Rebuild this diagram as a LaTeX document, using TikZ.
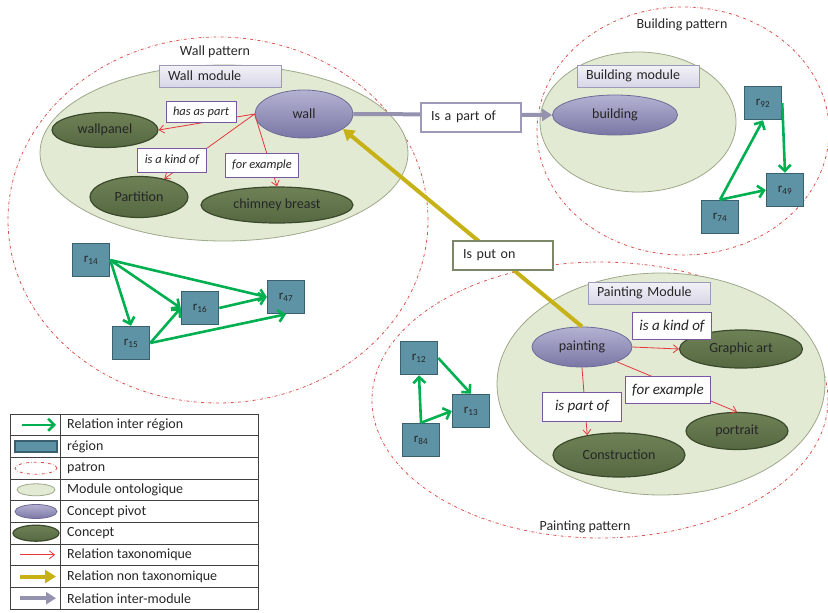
\documentclass[tikz,border=0pt]{standalone}
\usepackage{fontspec}
\setmainfont{Carlito}
\usetikzlibrary{shapes.geometric, arrows.meta}
\definecolor{inktext}{HTML}{262626}
\definecolor{patronred}{HTML}{D9534F}
\definecolor{modulefill}{HTML}{E2EAD3}
\definecolor{moduleedge}{HTML}{9DA88A}
\definecolor{pivottop}{HTML}{B4B2D2}
\definecolor{pivotbottom}{HTML}{7A77A5}
\definecolor{pivotedge}{HTML}{6E6B98}
\definecolor{concepttop}{HTML}{6E8156}
\definecolor{conceptbottom}{HTML}{556841}
\definecolor{conceptedge}{HTML}{3C4A2C}
\definecolor{regionblue}{HTML}{5E93A6}
\definecolor{regionedge}{HTML}{3A6070}
\definecolor{linkgreen}{HTML}{00B050}
\definecolor{taxred}{HTML}{E8383D}
\definecolor{taxpurple}{HTML}{7B57A3}
\definecolor{putonyellow}{HTML}{C6B217}
\definecolor{putonedge}{HTML}{7C876A}
\definecolor{intergray}{HTML}{9592B0}
\definecolor{labeltop}{HTML}{F3F2F8}
\definecolor{labelbottom}{HTML}{D8D6E7}
\definecolor{labeledge}{HTML}{9C9AB6}
\definecolor{legendgray}{HTML}{404040}

\begin{document}
\begin{tikzpicture}[x=1pt, y=-1pt, text=inktext, font=\fontsize{14}{16}\selectfont,
  patron/.style={draw=patronred, dash dot, line width=0.8pt},
  module/.style={draw=moduleedge, fill=modulefill, line width=0.8pt},
  modlabel/.style={draw=labeledge, top color=labeltop, bottom color=labelbottom, line width=0.8pt,
    text width=104pt, inner xsep=9pt, minimum height=22pt, align=left},
  pivot/.style={ellipse, draw=pivotedge, top color=pivottop, bottom color=pivotbottom, line width=0.8pt, inner sep=0pt},
  concept/.style={ellipse, draw=conceptedge, top color=concepttop, bottom color=conceptbottom, line width=1.2pt, inner sep=0pt},
  region/.style={draw=regionedge, fill=regionblue, line width=1.5pt, minimum width=37pt, minimum height=33pt,
    inner sep=0pt, font=\fontsize{13}{15}\selectfont},
  taxlabel/.style={draw=taxpurple, fill=white, line width=0.8pt, font=\fontsize{12.5}{14}\selectfont\itshape,
    inner xsep=7pt, minimum height=21pt},
  bigtaxlabel/.style={taxlabel, font=\fontsize{15}{17}\selectfont\itshape, minimum height=27pt},
  linklabel/.style={fill=white, line width=2pt, text width=80pt, inner xsep=10pt, minimum height=29pt, align=left},
  regionlink/.style={-{Straight Barb[length=6pt, width=12pt]}, linkgreen, line width=2.6pt},
  taxlink/.style={-{Straight Barb[length=5pt, width=8pt]}, taxred, line width=0.8pt},
  putonlink/.style={-{Triangle[length=11pt, width=13pt]}, putonyellow, line width=4pt},
  modulelink/.style={-{Triangle[length=10pt, width=12pt]}, intergray, line width=4pt},
  legendtext/.style={anchor=west, inner sep=0pt}]
  \useasboundingbox (0,0) rectangle (828,613);

  % Patterns
  \draw[patron] (218,220) ellipse [x radius=210pt, y radius=183pt];
  \draw[patron] (683,131) ellipse [x radius=146pt, y radius=124pt];
  \draw[patron] (600,400) ellipse [x radius=228pt, y radius=138pt];
  \node (wallpat) at (215,52) {Wall pattern};
  \node (buildpat) at (682,25) {Building pattern};
  \node (paintpat) at (585,527) {Painting pattern};

  % Modules
  \draw[module] (224,153) ellipse [x radius=184pt, y radius=88pt];
  \draw[module] (638,122) ellipse [x radius=98pt, y radius=70pt];
  \draw[module] (661,384) ellipse [x radius=164pt, y radius=111pt];
  \node[modlabel] (wallmod) at (220,76) {Wall module};
  \node[modlabel] (buildmod) at (638,76) {Building module};
  \node[modlabel] (paintmod) at (649,293) {Painting Module};

  % Concepts
  \node[pivot, minimum width=98pt, minimum height=48pt] (wall) at (304,114) {wall};
  \node[concept, minimum width=106pt, minimum height=35pt] (wallpanel) at (105,130) {wallpanel};
  \node[concept, minimum width=98pt, minimum height=41pt] (partition) at (139,197) {Partition};
  \node[concept, minimum width=152pt, minimum height=36pt] (chimney) at (277,205) {chimney breast};
  \node[pivot, minimum width=125pt, minimum height=40pt] (building) at (615,115) {building};
  \node[pivot, minimum width=100pt, minimum height=40pt] (painting) at (582,347) {painting};
  \node[concept, minimum width=123pt, minimum height=38pt] (graphic) at (741,349) {Graphic art};
  \node[concept, minimum width=102pt, minimum height=37pt] (portrait) at (737,431) {portrait};
  \node[concept, minimum width=132pt, minimum height=44pt] (construction) at (619,455) {Construction};

  % Regions
  \node[region] (r14) at (91,260) {r\textsubscript{14}};
  \node[region] (r15) at (131,343) {r\textsubscript{15}};
  \node[region] (r16) at (200,308) {r\textsubscript{16}};
  \node[region] (r47) at (286,297) {r\textsubscript{47}};
  \node[region] (r92) at (763,103) {r\textsubscript{92}};
  \node[region] (r49) at (785,190) {r\textsubscript{49}};
  \node[region] (r74) at (720,217) {r\textsubscript{74}};
  \node[region] (r12) at (419,358) {r\textsubscript{12}};
  \node[region] (r13) at (471,411) {r\textsubscript{13}};
  \node[region] (r84) at (421,440) {r\textsubscript{84}};

  % Inter region relations
  \draw[regionlink] (r14.east) -- (r47.west);
  \draw[regionlink] (r14.east) -- (r16.west);
  \draw[regionlink] (r14.east) -- (r15.north);
  \draw[regionlink] (r15.east) -- (r16.west);
  \draw[regionlink] (r15.east) -- (r47.south);
  \draw[regionlink] (r16.east) -- (r47.west);
  \draw[regionlink] (r74.north) -- (r92.south);
  \draw[regionlink] (r74.north) -- (r49.west);
  \draw[regionlink] (r92.east) -- (r49.north);
  \draw[regionlink] (r84.north) -- (r12.south);
  \draw[regionlink] (r12.east) -- (r13.north);
  \draw[regionlink] (r84.north) -- (r13.west);

  % Taxonomic relations
  \draw[taxlink] (wall.west) -- (wallpanel.east);
  \draw[taxlink] (wall.west) -- (partition);
  \draw[taxlink] (wall.west) -- (chimney.north);
  \draw[taxlink] (painting.east) -- (graphic.west);
  \draw[taxlink] (painting.-23) -- (portrait.north);
  \draw[taxlink] (painting.south) -- (construction.148);

  % Inter module and non taxonomic relations
  \draw[modulelink] (wall.east) -- (building.west);
  \draw[putonlink] (painting.north) -- (wall.-21);

  % Relation labels
  \node[linklabel, draw=labeledge] (partof) at (471,117) {Is a part of};
  \node[linklabel, draw=putonedge] (puton) at (503,255) {Is put on};
  \node[taxlabel] (hasaspart) at (201,112) {has as part};
  \node[taxlabel, minimum height=24pt] (kindwall) at (172,160) {is a kind of};
  \node[taxlabel, minimum height=24pt] (examplewall) at (262,165) {for example};
  \node[bigtaxlabel] (kindpaint) at (672,326) {is a kind of};
  \node[bigtaxlabel] (examplepaint) at (668,390) {for example};
  \node[bigtaxlabel, minimum width=79pt, minimum height=29pt] (partofpaint) at (582,407) {is part of};

  % Legend
  \draw[legendgray, line width=0.8pt] (10,414) rectangle (258,609);
  \draw[legendgray, line width=0.8pt] (60,414) -- (60,609)
    (10,435.7) -- (258,435.7) (10,457.3) -- (258,457.3) (10,479) -- (258,479)
    (10,500.7) -- (258,500.7) (10,522.3) -- (258,522.3) (10,544) -- (258,544)
    (10,565.7) -- (258,565.7) (10,587.3) -- (258,587.3);
  \draw[regionlink] (22,424.8) -- (56,424.8);
  \draw[draw=regionedge, fill=regionblue, line width=1.5pt] (15,441) rectangle (57,452);
  \draw[patron] (36,468.2) ellipse [x radius=21pt, y radius=6pt];
  \draw[module] (36,489.8) ellipse [x radius=19pt, y radius=6pt];
  \node[pivot, minimum width=42pt, minimum height=14pt] (lgpivot) at (36,511.5) {};
  \node[concept, minimum width=46pt, minimum height=16pt] (lgconcept) at (36,533.2) {};
  \draw[taxlink] (20,554.8) -- (55,554.8);
  \draw[putonlink] (20,576.5) -- (56,576.5);
  \draw[modulelink] (20,598.2) -- (56,598.2);
  \node[legendtext] (lgregionlink) at (67,424.8) {Relation inter région};
  \node[legendtext] (lgregion) at (67,446.5) {région};
  \node[legendtext] (lgpatron) at (67,468.2) {patron};
  \node[legendtext] (lgmodule) at (67,489.8) {Module ontologique};
  \node[legendtext] (lgpivottext) at (67,511.5) {Concept pivot};
  \node[legendtext] (lgconcepttext) at (67,533.2) {Concept};
  \node[legendtext] (lgtax) at (67,554.8) {Relation taxonomique};
  \node[legendtext] (lgnontax) at (67,576.5) {Relation non taxonomique};
  \node[legendtext] (lginter) at (67,598.2) {Relation inter-module};
\end{tikzpicture}
\end{document}
